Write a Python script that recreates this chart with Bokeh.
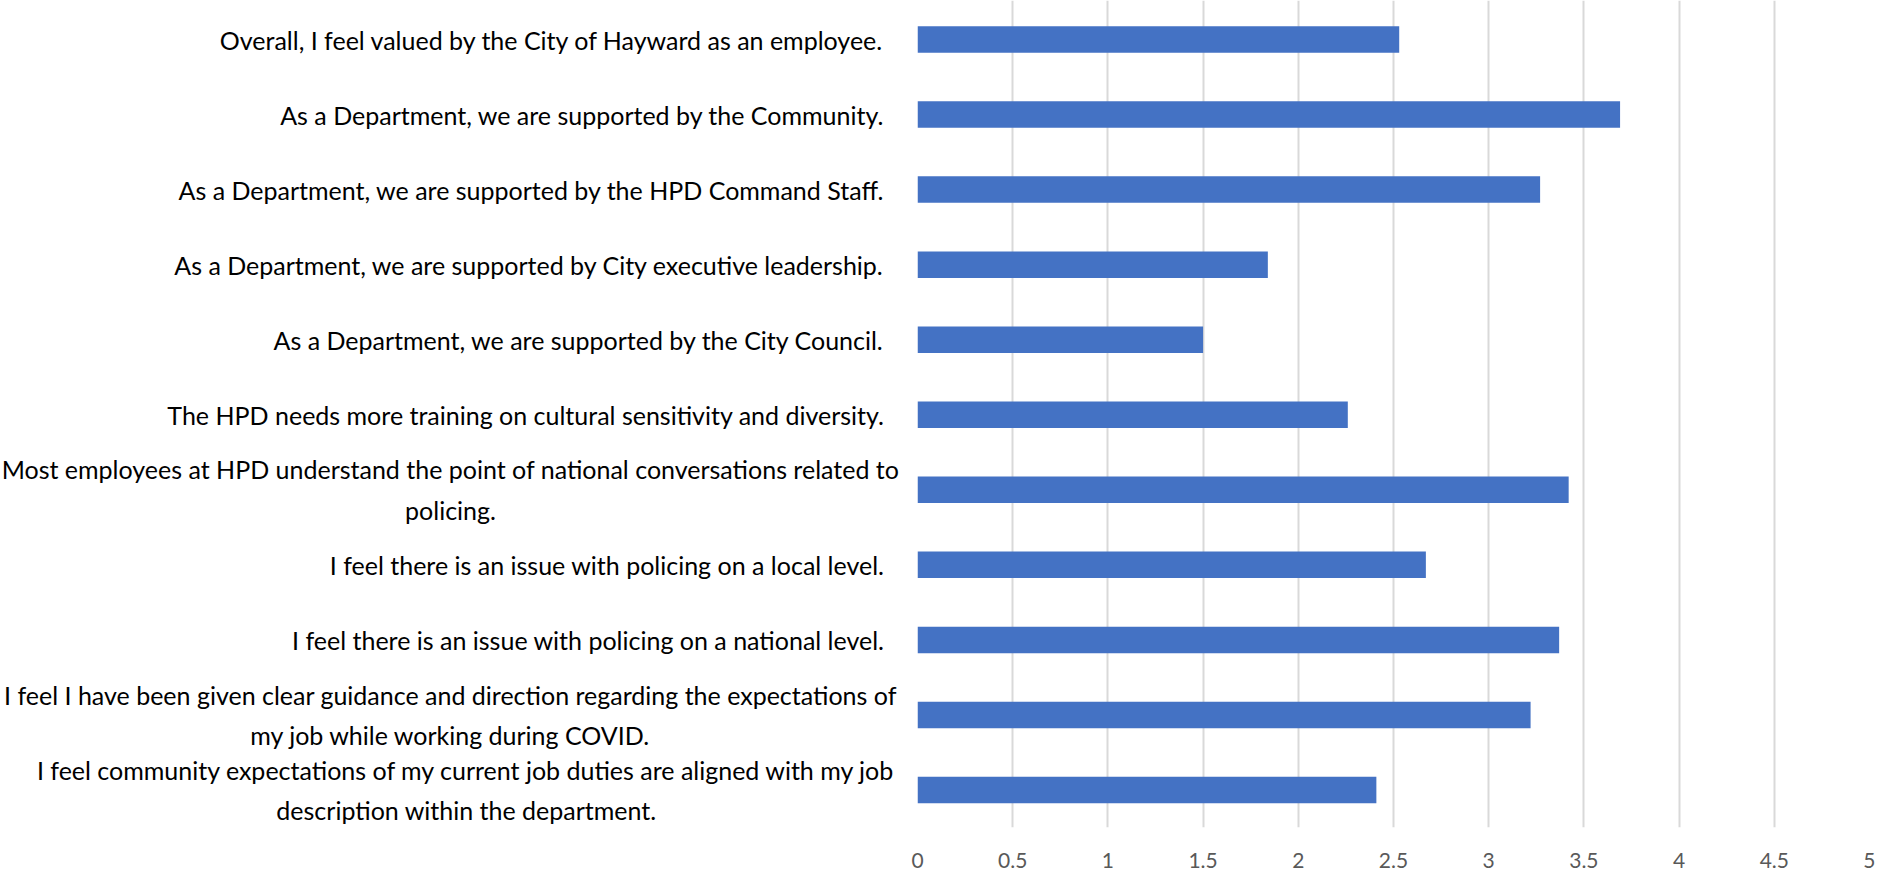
from bokeh.plotting import figure
from bokeh.models import Range1d, FixedTicker, ColumnDataSource
from bokeh.layouts import row
from bokeh.core.properties import value
from bokeh.embed import file_html
from bokeh.resources import INLINE

categories = [
    "Overall, I feel valued by the City of Hayward as an employee.",
    "As a Department, we are supported by the Community.",
    "As a Department, we are supported by the HPD Command Staff.",
    "As a Department, we are supported by City executive leadership.",
    "As a Department, we are supported by the City Council.",
    "The HPD needs more training on cultural sensitivity and diversity.",
    "Most employees at HPD understand the point of national conversations related to\npolicing.",
    "I feel there is an issue with policing on a local level.",
    "I feel there is an issue with policing on a national level.",
    "I feel I have been given clear guidance and direction regarding the expectations of\nmy job while working during COVID.",
    "I feel community expectations of my current job duties are aligned with my job\ndescription within the department.",
]
scores = [2.53, 3.69, 3.27, 1.84, 1.50, 2.26, 3.42, 2.67, 3.37, 3.22, 2.41]
x_ticks = [0, 0.5, 1, 1.5, 2, 2.5, 3, 3.5, 4, 4.5, 5]
x_tick_labels = ["0", "0.5", "1", "1.5", "2", "2.5", "3", "3.5", "4", "4.5", "5"]

FONT = "Lato"
LABEL_SIZE = "25px"
TOTAL_W = 1875
TOTAL_H = 871
BOTTOM = 44

pos = list(range(len(categories)))
y_range = Range1d(10.5, -0.52)

# ---- label panel (left) ----
LABEL_W = 909
RIGHT_EDGE = 884          # right edge of single-line labels (px in panel)
wrap_centers = {6: 450, 9: 450, 10: 466}   # centre of wrapped labels (px in panel)

single = [i for i in pos if "\n" not in categories[i]]
wrapped = [i for i in pos if "\n" in categories[i]]

src_single = ColumnDataSource(dict(
    x=[RIGHT_EDGE] * len(single),
    y=single,
    t=[categories[i] for i in single]))
src_wrapped = ColumnDataSource(dict(
    x=[wrap_centers[i] for i in wrapped],
    y=wrapped,
    t=[categories[i] for i in wrapped]))

lab = figure(
    width=LABEL_W, height=TOTAL_H,
    x_range=Range1d(0, LABEL_W), y_range=y_range,
    x_axis_type=None, y_axis_type=None,
    output_backend="svg", toolbar_location=None,
    min_border_left=0, min_border_right=0,
    min_border_top=0, min_border_bottom=BOTTOM,
)
lab.outline_line_color = None
lab.grid.visible = False
lab.text(x="x", y="y", text="t", source=src_single,
         text_align="right", text_baseline="middle",
         text_font=value(FONT), text_font_size=value(LABEL_SIZE),
         text_color="#000000")
lab.text(x="x", y="y", text="t", source=src_wrapped,
         text_align="center", text_baseline="middle",
         text_font=value(FONT), text_font_size=value(LABEL_SIZE),
         text_line_height=1.36, text_color="#000000")

# ---- bar chart ----
src = ColumnDataSource(dict(y=pos, right=scores))

p = figure(
    width=TOTAL_W - LABEL_W, height=TOTAL_H,
    x_range=Range1d(0, 5), y_range=y_range,
    output_backend="svg", toolbar_location=None,
    min_border_left=8, min_border_right=6,
    min_border_top=0, min_border_bottom=BOTTOM,
)
p.outline_line_color = None

p.hbar(y="y", left=0, right="right", height=0.353, source=src,
       fill_color="#4472C4", line_color=None)

p.xaxis.ticker = FixedTicker(ticks=x_ticks)
p.xaxis.major_label_overrides = {t: l for t, l in zip(x_ticks, x_tick_labels)}
p.xaxis.axis_line_color = None
p.xaxis.major_tick_line_color = None
p.xaxis.minor_tick_line_color = None
p.xaxis.major_label_text_font = FONT
p.xaxis.major_label_text_font_size = "21px"
p.xaxis.major_label_text_color = "#595959"
p.xaxis.major_label_standoff = 19

p.yaxis.visible = False

p.xgrid.ticker = FixedTicker(ticks=x_ticks)
p.xgrid.grid_line_color = "#d9d9d9"
p.xgrid.grid_line_width = 2
p.ygrid.grid_line_color = None

layout = row(lab, p)
open("out.html", "w").write(file_html(layout, INLINE))
